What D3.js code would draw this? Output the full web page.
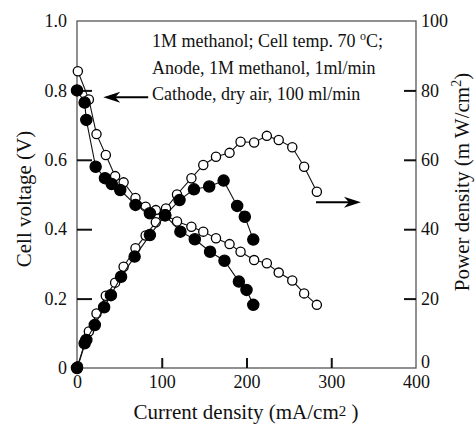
<!DOCTYPE html>
<html lang="en">
<head>
<meta charset="UTF-8">
<script src="https://d3js.org/d3.v7.min.js"></script>
<title>DMFC polarization</title>
<style>
  body { margin: 0; background: #fff; }
  text { font-family: "Liberation Serif", "Times New Roman", serif; fill: #111; }
</style>
</head>
<body>
<script>
// current density (mA/cm2) for each series
const openVoltI  = [1, 14, 23, 34, 45, 55, 69, 81, 93, 105, 118, 135, 149, 164, 180, 193, 209, 224, 238, 254, 268, 283];
const openVolt   = [0.855, 0.774, 0.674, 0.614, 0.553, 0.535, 0.49, 0.465, 0.455, 0.44, 0.422, 0.407, 0.393, 0.374, 0.357, 0.335, 0.311, 0.302, 0.275, 0.252, 0.215, 0.182];
const openPowI   = [1, 14, 23, 34, 45, 55, 69, 81, 93, 105, 118, 135, 149, 164, 180, 193, 209, 224, 238, 254, 268, 283];
const openPow    = [0.5, 10.5, 15.7, 20.8, 24.6, 29.2, 34.5, 38.2, 42, 46, 50, 54.7, 58.5, 60.9, 62, 65.2, 65, 66.9, 65.7, 63.6, 58, 50.8];

const fillVoltI  = [0, 9, 11, 22, 33, 41, 51, 69, 86, 104, 122, 139, 157, 174, 191, 200, 208];
const fillVolt   = [0.80, 0.765, 0.715, 0.58, 0.547, 0.53, 0.513, 0.47, 0.446, 0.44, 0.393, 0.371, 0.335, 0.309, 0.249, 0.225, 0.182];
const fillPowI   = [0, 9, 11, 21, 32, 40, 52, 68, 86, 104, 121, 138, 156, 173, 189, 198, 208];
const fillPow    = [0, 7.1, 8.1, 12.4, 17.5, 21, 26.3, 32.1, 38.3, 44, 48.4, 51.5, 52.3, 54, 46.7, 43.6, 37];

const xTicks = [0, 100, 200, 300, 400];
const vTicks = [0, 0.2, 0.4, 0.6, 0.8, 1.0];
const pTicks = [0, 20, 40, 60, 80, 100];

const notes = ["1M methanol; Cell temp. 70 ", "Anode, 1M methanol, 1ml/min", "Cathode, dry air, 100 ml/min"];
const noteV = [0.925, 0.848, 0.772];   // baselines, in volts
const noteI = 88.5;

const w = 476, h = 424;
const m = {left: 77, right: 60, top: 21, bottom: 56};

const x  = d3.scaleLinear().domain([0, 400]).range([m.left, w - m.right]);
const yV = d3.scaleLinear().domain([0, 1]).range([h - m.bottom, m.top]);
const yP = d3.scaleLinear().domain([0, 100]).range([h - m.bottom, m.top]);

const svg = d3.select("body").append("svg").attr("width", w).attr("height", h);

// frame
svg.append("rect")
  .attr("x", x(0)).attr("y", yV(1))
  .attr("width", x(400) - x(0)).attr("height", yV(0) - yV(1))
  .attr("fill", "none").attr("stroke", "#555").attr("stroke-width", 1.3);

function styleAxis(g) {
  g.select(".domain").remove();
  g.selectAll("text").attr("font-family", "Liberation Serif, Times New Roman, serif")
    .attr("font-size", 18).attr("fill", "#111");
  g.selectAll("line").attr("stroke", "#111").attr("stroke-width", 2);
}

// left axis
svg.append("g").attr("transform", `translate(${m.left},0)`)
  .call(d3.axisLeft(yV).tickValues(vTicks).tickSize(-15).tickPadding(10)
    .tickFormat(d => d === 0 ? "0" : d3.format(".1f")(d)))
  .call(styleAxis)
  .call(g => g.selectAll(".tick").filter(d => d === 0 || d === 1).select("line").remove());

// right axis
svg.append("g").attr("transform", `translate(${w - m.right},0)`)
  .call(d3.axisRight(yP).tickValues(pTicks).tickSize(-12).tickPadding(5))
  .call(styleAxis)
  .call(g => g.selectAll(".tick").filter(d => d === 0 || d === 100).select("line").remove())
  .call(g => g.selectAll(".tick").filter(d => d === 0).select("text").attr("dy", "-0.05em"));

// bottom axis
svg.append("g").attr("transform", `translate(0,${h - m.bottom})`)
  .call(d3.axisBottom(x).tickValues(xTicks).tickSize(-10).tickPadding(7))
  .call(styleAxis)
  .call(g => g.selectAll(".tick").filter(d => d === 0 || d === 400).select("line").remove());

// axis titles
const xt = svg.append("text").attr("x", 246).attr("y", 419)
  .attr("text-anchor", "middle").attr("font-size", 21);
xt.append("tspan").text("Current density (mA/cm");
xt.append("tspan").attr("font-size", 15).attr("dy", -3).text("2");
xt.append("tspan").attr("dy", 3).text(" )");

svg.append("text")
  .attr("transform", `translate(31,199) rotate(-90)`)
  .attr("text-anchor", "middle").attr("font-size", 21)
  .text("Cell voltage (V)");

const yt = svg.append("text")
  .attr("transform", `translate(469,182) rotate(-90)`)
  .attr("text-anchor", "middle").attr("font-size", 21);
yt.append("tspan").text("Power density (m W/cm");
yt.append("tspan").attr("font-size", 14).attr("dy", -8).text("2");
yt.append("tspan").attr("dy", 8).text(")");

// series
function series(xs, ys, yScale, filled) {
  const pts = xs.map((d, i) => [x(d), yScale(ys[i])]);
  svg.append("path").attr("d", d3.line()(pts))
    .attr("fill", "none").attr("stroke", "#111").attr("stroke-width", 1.1);
  svg.append("g").selectAll("circle").data(pts).join("circle")
    .attr("cx", d => d[0]).attr("cy", d => d[1])
    .attr("r", filled ? 5.6 : 4.6)
    .attr("fill", filled ? "#000" : "#fff")
    .attr("stroke", "#000").attr("stroke-width", 1.3);
}
series(openVoltI, openVolt, yV, false);
series(openPowI, openPow, yP, false);
series(fillVoltI, fillVolt, yV, true);
series(fillPowI, fillPow, yP, true);

// notes
notes.forEach((t, i) => {
  const tx = svg.append("text").attr("x", x(noteI)).attr("y", yV(noteV[i])).attr("font-size", 18);
  tx.append("tspan").text(t);
  if (i === 0) {
    tx.append("tspan").attr("font-size", 12).attr("dy", -7).text("o");
    tx.append("tspan").attr("dy", 7).text("C;");
  }
});

// arrows: [from current, to current, value]
const arrowV = [84, 31, 0.78];
const arrowP = [282, 335, 47.8];
function arrow(x1, x2, y) {
  const dir = Math.sign(x2 - x1);
  svg.append("line").attr("x1", x1).attr("x2", x2 - dir * 10).attr("y1", y).attr("y2", y)
    .attr("stroke", "#000").attr("stroke-width", 2);
  svg.append("path")
    .attr("d", `M${x2},${y} L${x2 - dir * 17},${y - 5.5} L${x2 - dir * 12},${y} L${x2 - dir * 17},${y + 5.5} Z`)
    .attr("fill", "#000");
}
arrow(x(arrowV[0]), x(arrowV[1]), yV(arrowV[2]));
arrow(x(arrowP[0]), x(arrowP[1]), yP(arrowP[2]));
</script>
</body>
</html>
